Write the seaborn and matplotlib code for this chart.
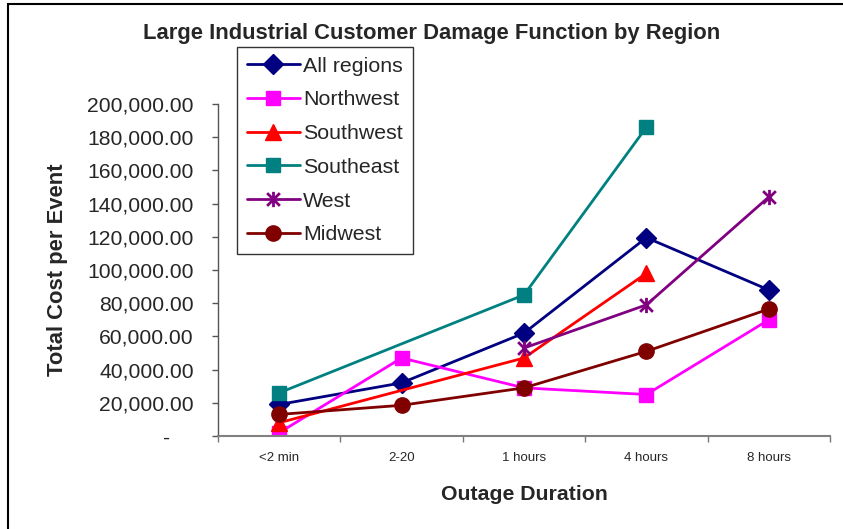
import numpy as np
import pandas as pd
import matplotlib
matplotlib.use("Agg")
import matplotlib.pyplot as plt
import seaborn as sns
from matplotlib.patches import Rectangle
from matplotlib.path import Path
from matplotlib.ticker import FuncFormatter

categories = ["<2 min", "2-20", "1 hours", "4 hours", "8 hours"]
all_regions = [19000, 32000, 62000, 119500, 88000]
northwest = [2000, 47000, 29000, 25000, 70000]
southwest = [8000, np.nan, 47000, 98000, np.nan]
southeast = [26000, np.nan, 85000, 186000, np.nan]
west = [np.nan, np.nan, 53000, 79000, 144000]
midwest = [13000, 18500, 29000, 51000, 76500]

series = {
    "All regions": all_regions,
    "Northwest": northwest,
    "Southwest": southwest,
    "Southeast": southeast,
    "West": west,
    "Midwest": midwest,
}
colors = {
    "All regions": "#000080",
    "Northwest": "#FF00FF",
    "Southwest": "#FF0000",
    "Southeast": "#008080",
    "West": "#800080",
    "Midwest": "#800000",
}
markers = {
    "All regions": "D",
    "Northwest": "s",
    "Southwest": "^",
    "Southeast": "s",
    "West": "o",
    "Midwest": "o",
}
msizes = {"All regions": 10, "Northwest": 10.5, "Southwest": 12, "Southeast": 10.5, "West": 11, "Midwest": 11}
# Excel-style star: X plus vertical bar
ASTERISK = Path([(-1, -1), (1, 1), (-1, 1), (1, -1), (0, -1.2), (0, 1.2)],
                [Path.MOVETO, Path.LINETO, Path.MOVETO, Path.LINETO, Path.MOVETO, Path.LINETO])

rows = []
for name, vals in series.items():
    for c, v in zip(categories, vals):
        rows.append({"Duration": c, "Cost": v, "Region": name})
df = pd.DataFrame(rows).dropna()
df["Duration"] = pd.Categorical(df["Duration"], categories=categories, ordered=True)

sns.set_style("white")
plt.rcParams["font.family"] = ["Liberation Sans", "DejaVu Sans"]

fig = plt.figure(figsize=(8.43, 5.29), dpi=100)
ax = fig.add_axes([218/843, 1-436/529, (830-218)/843, (436-104)/529])

sns.lineplot(data=df, x="Duration", y="Cost", hue="Region", style="Region",
             palette=colors, markers=markers, dashes=False, linewidth=2,
             markersize=10, ax=ax, sort=False, legend=True)

def style_line(l, n):
    c = colors[n]
    l.set_markeredgecolor(c)
    l.set_markerfacecolor(c)
    l.set_markeredgewidth(1)
    l.set_markersize(msizes[n])
    if n == "West":
        l.set_marker(ASTERISK)
        l.set_fillstyle("none")
        l.set_markeredgewidth(2)

names = list(series.keys())
data_lines = [l for l in ax.lines if len(l.get_xdata()) > 0]
for l, n in zip(data_lines, names):
    style_line(l, n)

ax.set_xlim(-0.5, 4.5)
ax.set_ylim(0, 200000)
ax.set_yticks(np.arange(0, 200001, 20000))
ax.yaxis.set_major_formatter(FuncFormatter(lambda v, p: "-    " if v == 0 else f"{v:,.2f}"))
ax.set_xticks(np.arange(-0.5, 4.6, 1), minor=False)
ax.set_xticklabels([])
ax.set_xticks(np.arange(0, 5), minor=True)
ax.set_xticklabels(categories, minor=True)
ax.tick_params(axis="x", which="minor", length=0, labelsize=9.5, pad=11.5)
ax.tick_params(axis="x", which="major", length=4, width=1, color="#777777", direction="out", bottom=True)
ax.tick_params(axis="y", length=4.3, width=1, color="#555555", direction="out", left=True, labelsize=15.2, pad=13)

for s in ["top", "right"]:
    ax.spines[s].set_visible(False)
ax.spines["left"].set_color("#555555")
ax.spines["left"].set_linewidth(1.0)
ax.spines["bottom"].set_color("#808080")
ax.spines["bottom"].set_linewidth(1.5)

ax.set_xlabel("")
ax.set_ylabel("")
fig.text(524/843, 1-495/529, "Outage Duration", ha="center", va="center", fontsize=15.3, fontweight="bold")
fig.text(57/843, 1-270/529, "Total Cost per Event", ha="center", va="center", rotation=90, fontsize=15.8, fontweight="bold")
fig.text(432/843, 1-33/529, "Large Industrial Customer Damage Function by Region", ha="center", va="center", fontsize=15.8, fontweight="bold")

handles, labels = ax.get_legend_handles_labels()
for h, n in zip(handles, labels):
    if n in colors:
        style_line(h, n)
    h.set_linewidth(2)
leg = ax.legend(handles, labels, loc="upper left", bbox_to_anchor=(237/843, 1-47/529),
                bbox_transform=fig.transFigure, borderaxespad=0, frameon=True,
                fancybox=False, edgecolor="black", fontsize=15.4, handlelength=2.5,
                labelspacing=0.69, borderpad=0.45, handletextpad=0.15)
leg.get_frame().set_linewidth(1)

fig.patches.append(Rectangle((8/843, -0.1), 2, 1.1 - 4.5/529, transform=fig.transFigure,
                             fill=False, edgecolor="black", linewidth=1.5))

fig.savefig("out.png", dpi=100)
